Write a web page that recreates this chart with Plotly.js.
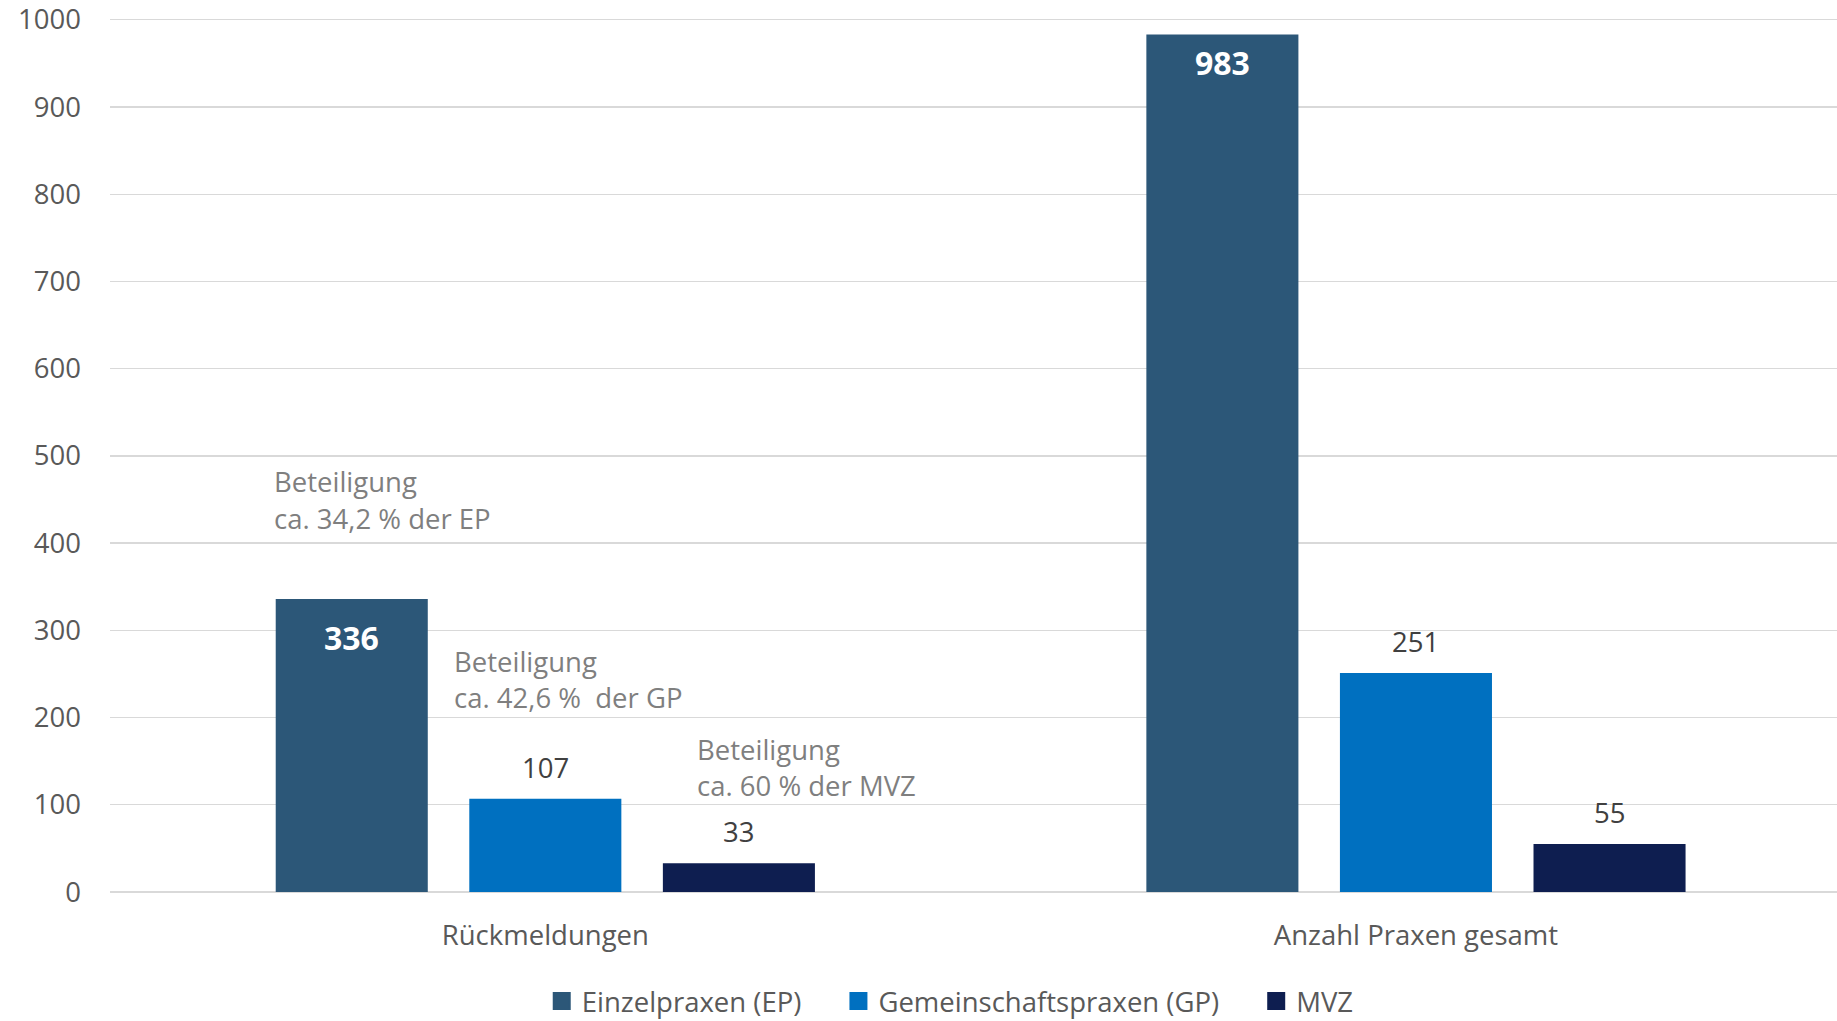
<!DOCTYPE html>
<html>
<head>
<meta charset="utf-8">
<script src="https://cdn.plot.ly/plotly-3.0.1.min.js"></script>
<style>
  html, body { margin: 0; padding: 0; background: #fff; overflow: hidden; }
  #chart { width: 1837px; height: 1021px; }
</style>
</head>
<body>
<div id="chart"></div>
<script>
// ---- Data ----
const categories = ["Rückmeldungen", "Anzahl Praxen gesamt"];
const seriesNames = ["Einzelpraxen (EP)", "Gemeinschaftspraxen (GP)", "MVZ"];
const epValues = [336, 983];
const gpValues = [107, 251];
const mvzValues = [33, 55];
const yTicks = [0, 100, 200, 300, 400, 500, 600, 700, 800, 900, 1000];
const noteLines = [
  ["Beteiligung", "ca. 34,2 % der EP"],
  ["Beteiligung", "ca. 42,6 %  der GP"],
  ["Beteiligung", "ca. 60 % der MVZ"]
];
// note anchor values (y, in chart units)
const noteY = [494, 288, 187];

// ---- Styles ----
const colors = ["#2C5778", "#0070C0", "#0E1E50"];
const FONT = "Open Sans, Segoe UI, Noto Sans, sans-serif";
const FS = 27.5;
const bargap = 0.333;
const bargroupgap = 0.2145;
const slot = (1 - bargap) / 3;
const insideShift = [-15, -4];      // per category, for the bold inside labels
const noteX = [-0.3139, -0.1072, 0.1719];
const legendPad = "\u2002\u2002\u2006";

const allSeries = [epValues, gpValues, mvzValues];

const traces = allSeries.map((vals, k) => ({
  type: "bar",
  name: seriesNames[k],
  x: categories,
  y: vals,
  marker: { color: colors[k] },
  showlegend: false,
  hoverinfo: "skip"
}));

// legend entries (square swatches)
seriesNames.forEach((nm, k) => {
  traces.push({
    type: "scatter",
    mode: "markers",
    name: k < seriesNames.length - 1 ? nm + legendPad : nm,
    x: [null], y: [null],
    marker: { symbol: "square", size: 16, color: colors[k], line: { color: colors[k], width: 2 } },
    showlegend: true,
    hoverinfo: "skip"
  });
});

// value labels derived from data
const annotations = [];
allSeries.forEach((vals, k) => {
  vals.forEach((v, i) => {
    const inside = (k === 0);
    annotations.push({
      xref: "x", yref: "y",
      x: i + (k - 1) * slot,
      y: v,
      text: inside ? "<b>" + v + "</b>" : String(v),
      showarrow: false,
      xanchor: "center",
      yanchor: inside ? "top" : "bottom",
      yshift: inside ? insideShift[i] : 11,
      font: inside ? { family: FONT, size: 32, color: "#FFFFFF" }
                   : { family: FONT, size: FS, color: "#404040" }
    });
  });
});

noteLines.forEach((lines, j) => {
  lines.forEach((line, li) => {
    annotations.push({
      xref: "x", yref: "y",
      x: noteX[j], y: noteY[j],
      yshift: -36.6 * li,
      text: line,
      align: "left",
      showarrow: false,
      xanchor: "left", yanchor: "top",
      font: { family: FONT, size: FS, color: "#7F7F7F" }
    });
  });
});

const layout = {
  width: 1837, height: 1021,
  margin: { l: 110, r: 0, t: 17.75, b: 128.5, pad: 0 },
  paper_bgcolor: "#FFFFFF",
  plot_bgcolor: "#FFFFFF",
  font: { family: FONT, size: FS, color: "#595959" },
  barmode: "group",
  bargap: bargap,
  bargroupgap: bargroupgap,
  showlegend: true,
  legend: {
    orientation: "h",
    xref: "container", yref: "container",
    x: 0.2949, xanchor: "left",
    y: 0.0195, yanchor: "middle",
    font: { family: FONT, size: FS, color: "#595959" },
    itemwidth: 30,
    traceorder: "normal",
    bgcolor: "rgba(0,0,0,0)"
  },
  xaxis: {
    type: "category",
    range: [-0.5, 1.4836],
    showgrid: false,
    showline: false,
    zeroline: false,
    ticks: "",
    tickfont: { family: FONT, size: FS, color: "#595959" },
    ticklabelstandoff: 24,
    fixedrange: true
  },
  yaxis: {
    range: [0, 1002],
    tickvals: yTicks,
    ticktext: yTicks.map(String),
    showgrid: true,
    gridcolor: "#D9D9D9",
    gridwidth: 1.4,
    zeroline: true,
    zerolinecolor: "#D9D9D9",
    zerolinewidth: 1.4,
    showline: false,
    ticks: "",
    tickfont: { family: FONT, size: FS, color: "#595959" },
    ticklabelstandoff: 28,
    fixedrange: true
  },
  annotations: annotations
};

Plotly.newPlot("chart", traces, layout, { displayModeBar: false, staticPlot: true });
</script>
</body>
</html>
